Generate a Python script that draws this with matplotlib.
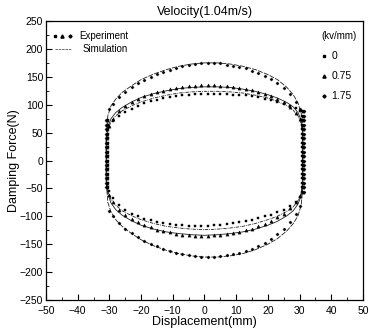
import matplotlib
matplotlib.use("Agg")
import numpy as np
import matplotlib.pyplot as plt
from matplotlib.ticker import MultipleLocator

plt.rcParams['font.family'] = ['Liberation Sans', 'DejaVu Sans']

# field strengths (kv/mm)
levels = ["0", "0.75", "1.75"]
markers = ["s", "^", "D"]
msizes = [1.8, 2.3, 1.6]

# measured points, branch grid (mm)
exp_x = [-30, -29, -27, -25, -23, -21, -19, -17, -15, -13, -11, -9, -7, -5, -3, -1,
         1, 3, 5, 7, 9, 11, 13, 15, 17, 19, 21, 23, 25, 27, 29, 30]

exp_up_0 = [60, 70, 80, 87, 93, 98, 103, 106, 109, 112, 114, 116, 117, 118, 119, 120,
            120, 120, 119, 119, 118, 117, 117, 115, 113, 111, 108, 105, 102, 98, 94, 88]
exp_lo_0 = [-55, -68, -80, -88, -95, -100, -104, -107, -110, -112, -114, -115, -116, -117, -117, -117,
            -117, -116, -115, -114, -112, -110, -108, -106, -103, -100, -97, -93, -88, -82, -74, -66]

exp_up_075 = [62, 75, 88, 97, 104, 110, 115, 119, 122, 125, 128, 130, 132, 133, 134, 135,
              135, 135, 134, 133, 132, 130, 128, 126, 123, 119, 115, 110, 104, 96, 85, 75]
exp_lo_075 = [-62, -75, -88, -97, -105, -111, -116, -120, -124, -127, -129, -131, -133, -134, -135, -135,
              -135, -134, -133, -132, -130, -128, -125, -122, -118, -113, -108, -102, -95, -86, -74, -64]

exp_up_175 = [92, 102, 113, 123, 131, 138, 145, 150, 155, 159, 163, 166, 169, 171, 173, 174,
              175, 175, 174, 172, 170, 168, 165, 161, 157, 152, 146, 139, 130, 119, 104, 92]
exp_lo_175 = [-90, -100, -112, -122, -130, -137, -144, -149, -154, -158, -162, -165, -168, -170, -172, -173,
              -173, -173, -172, -170, -168, -165, -162, -158, -153, -147, -140, -132, -122, -110, -95, -82]

# points along the stroke ends
edge_x_left = [-30.6, -30.9, -31.2]
edge_x_right = [30.7, 31.0, 31.3]
edge_f_left = [-48, -40, -32, -24, -16, -8, 0, 8, 16, 24, 32, 40, 48, 56, 64, 72]
edge_f_right = [-56, -48, -40, -32, -24, -16, -8, 0, 8, 16, 24, 32, 40, 48, 56, 64, 72, 80, 88]

# simulated loops
sim_x = [-31, -30.5, -29.5, -28, -26, -23, -20, -16, -12, -8, -4, 0,
         4, 8, 12, 16, 20, 23, 26, 28, 29.5, 30.5, 31]

sim_up_0 = [30, 55, 70, 80, 89, 98, 105, 112, 117, 121, 123, 124,
            124, 123, 121, 117, 112, 106, 98, 90, 80, 66, 45]
sim_lo_0 = [-30, -55, -70, -80, -90, -99, -106, -113, -118, -121, -123, -124,
            -123, -121, -118, -113, -106, -100, -91, -83, -72, -58, -38]

sim_up_075 = [35, 60, 75, 86, 95, 105, 113, 120, 125, 129, 131, 132,
              132, 131, 128, 124, 118, 112, 104, 96, 86, 72, 50]
sim_lo_075 = [-35, -60, -76, -88, -98, -108, -116, -123, -128, -131, -133, -134,
              -133, -131, -128, -123, -116, -109, -99, -90, -78, -63, -40]

sim_up_175 = [40, 80, 98, 110, 122, 134, 145, 155, 163, 169, 173, 175,
              175, 173, 169, 163, 154, 145, 131, 118, 103, 85, 60]
sim_lo_175 = [-40, -75, -92, -106, -118, -131, -142, -153, -161, -167, -171, -173,
              -173, -171, -167, -160, -150, -140, -126, -113, -99, -80, -50]

exp_up = [exp_up_0, exp_up_075, exp_up_175]
exp_lo = [exp_lo_0, exp_lo_075, exp_lo_175]
sim_up = [sim_up_0, sim_up_075, sim_up_175]
sim_lo = [sim_lo_0, sim_lo_075, sim_lo_175]
sim_styles = [(0, (4, 1.2, 1, 1.2)), "-", (0, (6, 1.5))]

fig = plt.figure(figsize=(3.69, 3.36), dpi=100)
ax = fig.add_axes([0.1247, 0.1071, 0.859, 0.8304])

for i in range(3):
    sx = sim_x + sim_x[::-1] + [sim_x[0]]
    sy = sim_up[i] + sim_lo[i][::-1] + [sim_up[i][0]]
    ax.plot(sx, sy, color="#222222", lw=0.6, ls=sim_styles[i])

for i in range(3):
    xs = exp_x + exp_x + [edge_x_left[i]] * len(edge_f_left) + [edge_x_right[i]] * len(edge_f_right)
    ys = exp_up[i] + exp_lo[i] + edge_f_left + edge_f_right
    ax.plot(xs, ys, ls="none", marker=markers[i], ms=msizes[i],
            mfc="black", mec="black", mew=0.3)

ax.set_xlim(-50, 50)
ax.set_ylim(-250, 250)
ax.xaxis.set_major_locator(MultipleLocator(10))
ax.xaxis.set_minor_locator(MultipleLocator(5))
ax.yaxis.set_major_locator(MultipleLocator(50))
ax.yaxis.set_minor_locator(MultipleLocator(25))
ax.tick_params(which="both", direction="in", top=False, right=False, labelsize=7.5)
ax.tick_params(axis="x", pad=4)
ax.tick_params(axis="y", pad=2)
ax.tick_params(which="major", length=4, width=0.8)
ax.tick_params(which="minor", length=2, width=0.6)
for s in ax.spines.values():
    s.set_linewidth(0.9)

ax.set_title("Velocity(1.04m/s)", fontsize=9, pad=4)
ax.set_xlabel("Displacement(mm)", fontsize=9, labelpad=0)
ax.set_ylabel("Damping Force(N)", fontsize=9, labelpad=0)

# legend for experiment / simulation
tr = ax.transAxes
for i, xm in enumerate([0.028, 0.052, 0.076]):
    ax.plot([xm], [0.946], transform=tr, ls="none", marker=markers[i], ms=msizes[i],
            color="black", clip_on=False)
ax.text(0.105, 0.946, "Experiment", transform=tr, fontsize=7, va="center")
ax.plot([0.028, 0.078], [0.9, 0.9], transform=tr, color="#555555", lw=0.6, ls=(0, (3, 1)))
ax.text(0.115, 0.9, "Simulation", transform=tr, fontsize=7, va="center")

# legend for field strength
ax.text(0.87, 0.946, "(kv/mm)", transform=tr, fontsize=7, va="center")
for i, yy in enumerate([0.875, 0.803, 0.732]):
    ax.plot([0.876], [yy], transform=tr, ls="none", marker=markers[i], ms=msizes[i],
            color="black")
    ax.text(0.9, yy, levels[i], transform=tr, fontsize=7.5, va="center")

fig.savefig("out.png", dpi=100)
